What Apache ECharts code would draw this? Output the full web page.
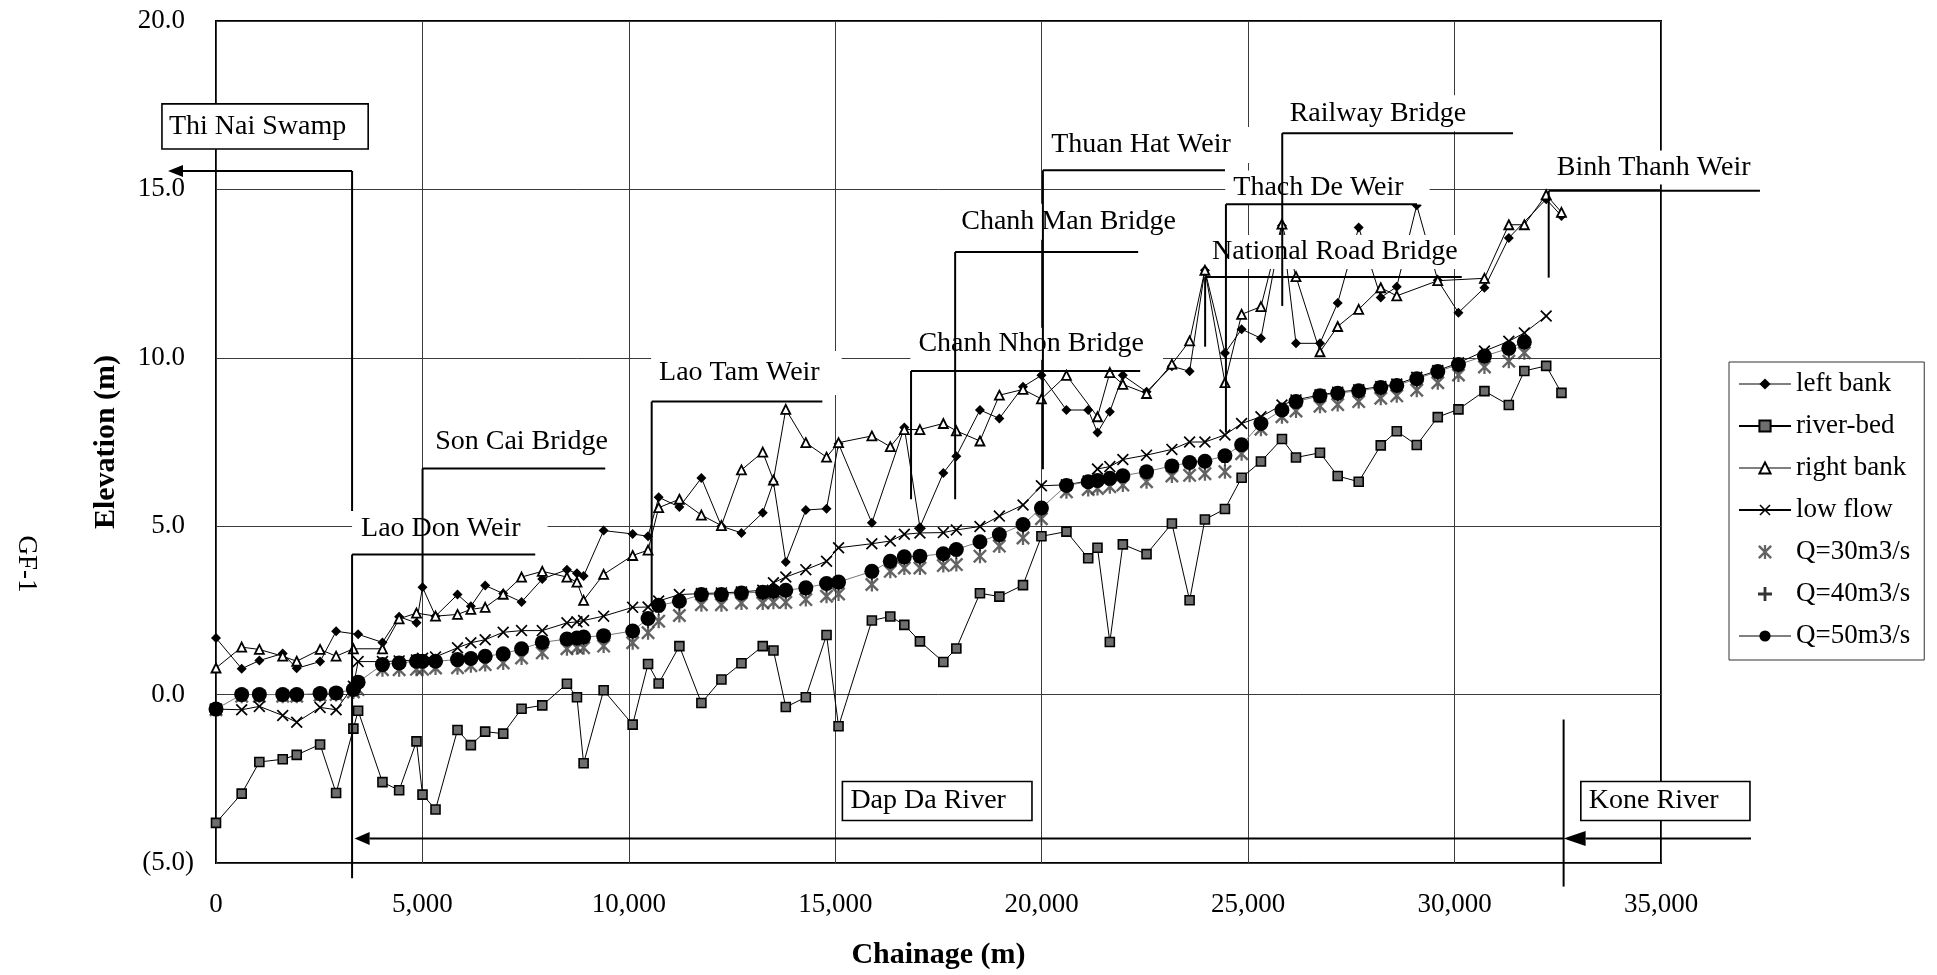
<!DOCTYPE html>
<html>
<head>
<meta charset="utf-8">
<title>GF-1 longitudinal profile</title>
<script src="https://cdn.jsdelivr.net/npm/echarts@6/dist/echarts.min.js"></script>
<style>
  html, body { margin: 0; padding: 0; background: #fff; }
  #chart { width: 1937px; height: 975px; }
</style>
</head>
<body>
<div id="chart"></div>
<script>
// Surveyed cross-section chainages (m)
const chainage = [
  0, 622, 1050, 1616, 1955, 2521, 2909, 3328, 3442, 4032,
  4436, 4856, 5002, 5317, 5850, 6173, 6520, 6957, 7401, 7903,
  8500, 8743, 8904, 9389, 10092, 10465, 10722, 11224, 11757, 12242,
  12727, 13243, 13502, 13801, 14286, 14788, 15079, 15886, 16332, 16672,
  17050, 17617, 17932, 18504, 18974, 19547, 19993, 20599, 21126, 21351,
  21650, 21965, 22539, 23153, 23582, 23953, 24438, 24842, 25310, 25819,
  26159, 26740, 27169, 27678, 28212, 28600, 29084, 29593, 30094, 30724,
  31314, 31690, 32219, 32589
];

// Elevations (m) at each chainage; null = not surveyed
const leftBank = [
  1.68, 0.77, 1.01, 1.22, 0.78, 0.98, 1.88, null, 1.79, 1.55,
  2.31, 2.13, 3.19, 2.33, 2.97, 2.62, 3.24, 3.00, 2.75, 3.43,
  3.71, 3.60, 3.52, 4.87, 4.77, 4.70, 5.86, 5.57, 6.43, 5.00,
  4.80, 5.40, 6.31, 3.94, 5.48, 5.52, 7.45, 5.10, null, 7.93,
  4.97, 6.58, 7.08, 8.45, 8.20, 9.14, 9.48, 8.45, 8.45, 7.78,
  8.40, 9.48, 8.99, 9.75, 9.60, 12.60, 10.14, 10.85, 10.58, 13.92,
  10.43, 10.43, 11.63, 13.87, 11.79, 12.11, 14.53, 12.30, 11.34, 12.08,
  13.56, null, 14.71, 14.21
];

const riverBed = [
  -3.81, -2.94, -2.00, -1.92, -1.79, -1.48, -2.92, -1.01, -0.48, -2.60,
  -2.84, -1.39, -2.97, -3.41, -1.05, -1.50, -1.10, -1.16, -0.42, -0.32,
  0.32, -0.08, -2.04, 0.13, -0.89, 0.91, 0.33, 1.44, -0.25, 0.45,
  0.93, 1.44, 1.31, -0.37, -0.08, 1.77, -0.94, 2.20, 2.32, 2.07,
  1.58, 0.97, 1.37, 3.01, 2.91, 3.25, 4.70, 4.84, 4.05, 4.36,
  1.56, 4.46, 4.17, 5.08, 2.80, 5.20, 5.51, 6.44, 6.92, 7.59,
  7.04, 7.18, 6.49, 6.32, 7.40, 7.82, 7.41, 8.24, 8.47, 9.01,
  8.60, 9.61, 9.76, 8.96
];

const rightBank = [
  0.79, 1.41, 1.34, 1.14, 0.99, 1.34, 1.14, 1.36, null, 1.36,
  2.25, 2.42, null, 2.33, 2.38, 2.53, 2.59, 2.98, 3.49, 3.66,
  3.49, 3.34, 2.80, 3.57, 4.13, 4.29, 5.55, 5.80, 5.33, 5.02,
  6.67, 7.20, 6.37, 8.47, 7.48, 7.05, 7.48, 7.68, 7.36, 7.87,
  7.87, 8.05, 7.83, 7.53, 8.89, 9.06, 8.78, 9.48, null, 8.25,
  9.56, 9.21, 8.94, 9.81, 10.50, 12.60, 9.26, 11.29, 11.52, 13.97,
  12.41, 10.18, 10.93, 11.44, 12.08, 11.84, null, 12.29, null, 12.36,
  13.95, 13.95, 14.84, 14.32
];

const lowFlow = [
  -0.43, -0.45, -0.35, -0.62, -0.82, -0.38, -0.45, 0.25, 0.98, 0.98,
  1.00, 1.03, 1.08, 1.12, 1.39, 1.54, 1.63, 1.85, 1.90, 1.90,
  2.13, 2.16, 2.20, 2.33, 2.59, 2.60, 2.78, 2.97, 3.00, 3.02,
  3.05, 3.10, 3.32, 3.49, 3.71, 3.96, 4.36, 4.48, 4.56, 4.76,
  4.80, 4.81, 4.89, 4.99, 5.30, 5.63, 6.20, 6.23, 6.34, 6.70,
  6.77, 6.98, 7.11, 7.28, 7.50, 7.50, 7.71, 8.05, 8.25, 8.60,
  8.75, 8.90, 8.98, 9.05, 9.15, 9.22, 9.42, 9.62, 9.85, 10.20,
  10.49, 10.74, 11.24, null
];

const q30 = [
  -0.45, -0.05, -0.05, -0.05, -0.05, -0.02, 0.00, 0.08, 0.15, 0.74,
  0.74, 0.75, 0.75, 0.79, 0.80, 0.86, 0.89, 0.94, 1.09, 1.24,
  1.36, 1.39, 1.39, 1.44, 1.54, 1.84, 2.18, 2.35, 2.67, 2.67,
  2.72, 2.72, 2.74, 2.74, 2.82, 2.92, 2.99, 3.27, 3.66, 3.76,
  3.76, 3.83, 3.86, 4.11, 4.41, 4.65, 5.22, 6.02, 6.09, 6.12,
  6.17, 6.22, 6.32, 6.49, 6.51, 6.56, 6.62, 7.15, 7.88, 8.25,
  8.42, 8.56, 8.61, 8.70, 8.80, 8.87, 9.04, 9.26, 9.49, 9.73,
  9.90, 10.15, null, null
];

const q40 = [
  -0.44, -0.02, -0.02, -0.02, -0.02, 0.01, 0.03, 0.12, 0.28, 0.83,
  0.86, 0.89, 0.89, 0.91, 0.95, 0.99, 1.04, 1.10, 1.25, 1.42,
  1.53, 1.56, 1.58, 1.62, 1.75, 2.09, 2.46, 2.59, 2.85, 2.85,
  2.90, 2.91, 2.93, 2.95, 3.03, 3.14, 3.19, 3.50, 3.83, 3.95,
  3.96, 4.04, 4.13, 4.36, 4.61, 4.89, 5.41, 6.13, 6.23, 6.26,
  6.32, 6.39, 6.50, 6.67, 6.74, 6.78, 6.90, 7.31, 7.98, 8.37,
  8.59, 8.75, 8.82, 8.89, 8.99, 9.06, 9.24, 9.45, 9.67, 9.92,
  10.12, 10.34, null, null
];

const q50 = [
  -0.43, 0.00, 0.00, 0.00, 0.00, 0.03, 0.05, 0.15, 0.37, 0.89,
  0.94, 0.99, 0.99, 0.99, 1.04, 1.07, 1.14, 1.21, 1.36, 1.55,
  1.65, 1.68, 1.71, 1.75, 1.89, 2.26, 2.65, 2.77, 2.97, 2.97,
  3.02, 3.04, 3.07, 3.10, 3.17, 3.30, 3.34, 3.66, 3.96, 4.09,
  4.11, 4.18, 4.31, 4.54, 4.75, 5.05, 5.54, 6.21, 6.32, 6.36,
  6.42, 6.50, 6.62, 6.79, 6.89, 6.93, 7.09, 7.42, 8.05, 8.45,
  8.70, 8.87, 8.95, 9.02, 9.12, 9.18, 9.38, 9.59, 9.80, 10.05,
  10.28, 10.47, null, null
];

// Axis ticks
const xTicks = [0, 5000, 10000, 15000, 20000, 25000, 30000, 35000];
const yTicks = [-5, 0, 5, 10, 15, 20];

// Structures along the river: label, chainage of the pointer, leader level,
// end of the leader, foot of the pointer, label anchor (chainage, elevation)
const structures = [
  { text: 'Lao Don Weir',         at: 3296,  level: 4.16,  end: 7732,  foot: -5.45, tx: 3514,  ty: 4.93,  pad: [6, 27, 6, 9] },
  { text: 'Son Cai Bridge',       at: 5003,  level: 6.71,  end: 9428,  foot: 3.19,  tx: 5308,  ty: 7.50,  pad: [4, 20, 4, 8] },
  { text: 'Lao Tam Weir',         at: 10553, level: 8.70,  end: 14687, foot: 2.62,  tx: 10732, ty: 9.55,  pad: [8, 22, 8, 8] },
  { text: 'Chanh Nhon Bridge',    at: 16835, level: 9.61,  end: 22385, foot: 5.80,  tx: 17014, ty: 10.42, pad: [2, 19, 2, 8] },
  { text: 'Chanh Man Bridge',     at: 17903, level: 13.14, end: 22336, foot: 5.80,  tx: 18051, ty: 14.04, pad: [4, 20, 4, 8] },
  { text: 'Thuan Hat Weir',       at: 20029, level: 15.57, end: 24440, foot: 6.69,  tx: 20228, ty: 16.32, pad: [4, 20, 4, 8] },
  { text: 'Thach De Weir',        at: 24462, level: 14.56, end: 29091, foot: 7.78,  tx: 24640, ty: 15.06, pad: [3, 26, 3, 8] },
  { text: 'National Road Bridge', at: 23958, level: 12.40, end: 30174, foot: 10.33, tx: 24124, ty: 13.14, pad: [3, 4, 3, 4] },
  { text: 'Railway Bridge',       at: 25826, level: 16.67, end: 31415, foot: 11.54, tx: 26005, ty: 17.26, pad: [4, 20, 4, 8] },
  { text: 'Binh Thanh Weir',      at: 32280, level: 14.96, end: 37397, foot: 12.38, tx: 32476, ty: 15.65, pad: [3, 12, 3, 8] }
];

// Framed river names: box corners and text start
const riverNames = [
  { text: 'Thi Nai Swamp', x1: -1309, y1: 17.54, x2: 3686,  y2: 16.20, tx: -1139 },
  { text: 'Dap Da River',  x1: 15172, y1: -2.58, x2: 19764, y2: -3.74, tx: 15366 },
  { text: 'Kone River',    x1: 33058, y1: -2.58, x2: 37155, y2: -3.74, tx: 33252 }
];

// Flow-direction arrows (head at "to") and plain markers
const flowArrows = [
  { from: [3296, 15.55],  to: [-1163, 15.55], head: [15, 12] },
  { from: [32641, -4.27], to: [3357, -4.27],  head: [15, 13] },
  { from: [37180, -4.27], to: [32641, -4.27], head: [22, 15] }
];
const markers = [
  { at: 3296,  from: 15.55, to: 5.45 },
  { at: 32641, from: -0.74, to: -5.70 }
];

const FONT = '"Liberation Serif", "Times New Roman", Times, serif';

const SYM_X = 'path://M1,0 L5,4 L9,0 L10,1 L6,5 L10,9 L9,10 L5,6 L1,10 L0,9 L4,5 L0,1 Z';
const SYM_STAR = 'path://M1.2,0 L5,3.8 L8.8,0 L10,1.2 L6.2,5 L10,8.8 L8.8,10 L5,6.2 L1.2,10 L0,8.8 L3.8,5 L0,1.2 Z M4.2,0 L5.8,0 L5.8,10 L4.2,10 Z';
const SYM_PLUS = 'path://M4,0 L6,0 L6,4 L10,4 L10,6 L6,6 L6,10 L4,10 L4,6 L0,6 L0,4 L4,4 Z';

function pairs(values) {
  return chainage.map((c, i) => [c, values[i]]).filter(d => d[1] !== null);
}

const chart = echarts.init(document.getElementById('chart'), null, { renderer: 'canvas' });

chart.setOption({
  animation: false,
  backgroundColor: '#fff',
  textStyle: { fontFamily: FONT },
  grid: {
    left: 216, top: 21, right: 276, bottom: 112,
    show: true, borderColor: '#000', borderWidth: 2, backgroundColor: '#fff'
  },
  xAxis: {
    type: 'value',
    min: xTicks[0], max: xTicks[xTicks.length - 1],
    interval: xTicks[1] - xTicks[0],
    name: 'Chainage (m)',
    nameLocation: 'middle',
    nameGap: 77,
    nameTextStyle: { fontFamily: FONT, fontSize: 30, fontWeight: 'bold', color: '#000' },
    axisLine: { show: false },
    axisTick: { show: false },
    axisLabel: {
      fontFamily: FONT, fontSize: 27, color: '#000', margin: 28,
      showMinLabel: true, showMaxLabel: true,
      formatter: v => v.toLocaleString('en-US')
    },
    splitLine: { show: true, lineStyle: { color: '#3a3a3a', width: 1 } }
  },
  yAxis: {
    type: 'value',
    min: yTicks[0], max: yTicks[yTicks.length - 1],
    interval: yTicks[1] - yTicks[0],
    name: 'Elevation (m)',
    nameLocation: 'middle',
    nameGap: 95,
    nameRotate: 90,
    nameTextStyle: { fontFamily: FONT, fontSize: 30, fontWeight: 'bold', color: '#000' },
    axisLine: { show: false },
    axisTick: { show: false },
    axisLabel: {
      margin: 22,
      showMinLabel: true, showMaxLabel: true,
      formatter: v => v < 0
        ? '{n|(' + Math.abs(v).toFixed(1) + ')}'
        : '{n|' + v.toFixed(1) + '}{p|)}',
      rich: {
        n: { fontFamily: FONT, fontSize: 27, color: '#000' },
        p: { fontFamily: FONT, fontSize: 27, color: 'rgba(0,0,0,0)' }
      }
    },
    splitLine: { show: true, lineStyle: { color: '#3a3a3a', width: 1 } }
  },
  legend: {
    orient: 'vertical',
    left: 1729, top: 362,
    padding: [8, 14, 10, 9],
    itemGap: 14,
    itemWidth: 52,
    itemHeight: 14,
    backgroundColor: '#fff',
    borderColor: '#333',
    borderWidth: 1,
    borderRadius: 0,
    textStyle: { fontFamily: FONT, fontSize: 27, color: '#000', lineHeight: 28 },
    data: [
      { name: 'left bank', lineStyle: { color: '#808080' } },
      { name: 'river-bed' },
      { name: 'right bank', lineStyle: { color: '#808080' } },
      { name: 'low flow' },
      { name: 'Q=30m3/s' },
      { name: 'Q=40m3/s' },
      { name: 'Q=50m3/s', lineStyle: { color: '#808080' } }
    ]
  },
  series: [
    {
      name: 'left bank', type: 'line', data: pairs(leftBank),
      symbol: 'diamond', symbolSize: 10,
      itemStyle: { color: '#000' },
      lineStyle: { color: '#000', width: 1 }
    },
    {
      name: 'river-bed', type: 'line', data: pairs(riverBed),
      symbol: 'rect', symbolSize: 9,
      itemStyle: { color: '#6e6e6e', borderColor: '#000', borderWidth: 1.6 },
      lineStyle: { color: '#000', width: 1 }
    },
    {
      name: 'right bank', type: 'line', data: pairs(rightBank),
      symbol: 'triangle', symbolSize: 9,
      itemStyle: { color: '#fff', borderColor: '#000', borderWidth: 1.8 },
      lineStyle: { color: '#000', width: 1 }
    },
    {
      name: 'low flow', type: 'line', data: pairs(lowFlow),
      symbol: SYM_X, symbolSize: 12,
      itemStyle: { color: '#000' },
      lineStyle: { color: '#000', width: 1 }
    },
    {
      name: 'Q=30m3/s', type: 'scatter', data: pairs(q30),
      symbol: SYM_STAR, symbolSize: 14,
      itemStyle: { color: '#3c3c3c' }
    },
    {
      name: 'Q=40m3/s', type: 'scatter', data: pairs(q40),
      symbol: SYM_PLUS, symbolSize: 7,
      itemStyle: { color: '#000' }
    },
    {
      name: 'Q=50m3/s', type: 'line', data: pairs(q50),
      symbol: 'circle', symbolSize: 15,
      itemStyle: { color: '#000' },
      lineStyle: { color: '#777', width: 1 }
    }
  ]
});

// Annotation layer, placed in data coordinates through the axes
function px(x, y) {
  return chart.convertToPixel({ xAxisIndex: 0, yAxisIndex: 0 }, [x, y]);
}

const LINE = { stroke: '#000', lineWidth: 2 };
const graphics = [];

structures.forEach(s => {
  const t = px(s.tx, s.ty);
  graphics.push({
    type: 'text', z: 20, silent: true,
    x: t[0] - s.pad[3], y: t[1],
    style: {
      text: s.text, font: '28px ' + FONT, fill: '#000',
      align: 'left', verticalAlign: 'middle',
      backgroundColor: '#fff', padding: s.pad
    }
  });
});

structures.forEach(s => {
  const a = px(s.at, s.level), b = px(s.end, s.level), c = px(s.at, s.foot);
  graphics.push({ type: 'line', z: 21, silent: true, shape: { x1: a[0], y1: a[1], x2: b[0], y2: b[1] }, style: LINE });
  graphics.push({ type: 'line', z: 21, silent: true, shape: { x1: a[0], y1: a[1], x2: c[0], y2: c[1] }, style: LINE });
});

riverNames.forEach(r => {
  const p1 = px(r.x1, r.y1), p2 = px(r.x2, r.y2);
  const t = px(r.tx, (r.y1 + r.y2) / 2);
  graphics.push({
    type: 'rect', z: 20, silent: true,
    shape: { x: p1[0], y: p1[1], width: p2[0] - p1[0], height: p2[1] - p1[1] },
    style: { fill: '#fff', stroke: '#000', lineWidth: 1.6 }
  });
  graphics.push({
    type: 'text', z: 21, silent: true, x: t[0], y: t[1],
    style: { text: r.text, font: '28px ' + FONT, fill: '#000', align: 'left', verticalAlign: 'middle' }
  });
});

markers.forEach(m => {
  const a = px(m.at, m.from), b = px(m.at, m.to);
  graphics.push({ type: 'line', z: 21, silent: true, shape: { x1: a[0], y1: a[1], x2: b[0], y2: b[1] }, style: LINE });
});

flowArrows.forEach(f => {
  const a = px(f.from[0], f.from[1]), b = px(f.to[0], f.to[1]);
  const dx = b[0] - a[0], dy = b[1] - a[1], len = Math.hypot(dx, dy);
  const ux = dx / len, uy = dy / len;
  const L = f.head[0], H = f.head[1] / 2;
  const bx = b[0] - ux * L, by = b[1] - uy * L;
  graphics.push({ type: 'line', z: 21, silent: true, shape: { x1: a[0], y1: a[1], x2: bx, y2: by }, style: LINE });
  graphics.push({
    type: 'polygon', z: 22, silent: true,
    shape: { points: [[b[0], b[1]], [bx - uy * H, by + ux * H], [bx + uy * H, by - ux * H]] },
    style: { fill: '#000' }
  });
});

// Figure tag at the far left
graphics.push({
  type: 'text', z: 20, silent: true,
  x: 26, y: 564, rotation: -Math.PI / 2,
  style: { text: 'GF-1', font: '27px ' + FONT, fill: '#000', align: 'center', verticalAlign: 'middle' }
});

chart.setOption({ graphic: { elements: graphics } });
</script>
</body>
</html>
